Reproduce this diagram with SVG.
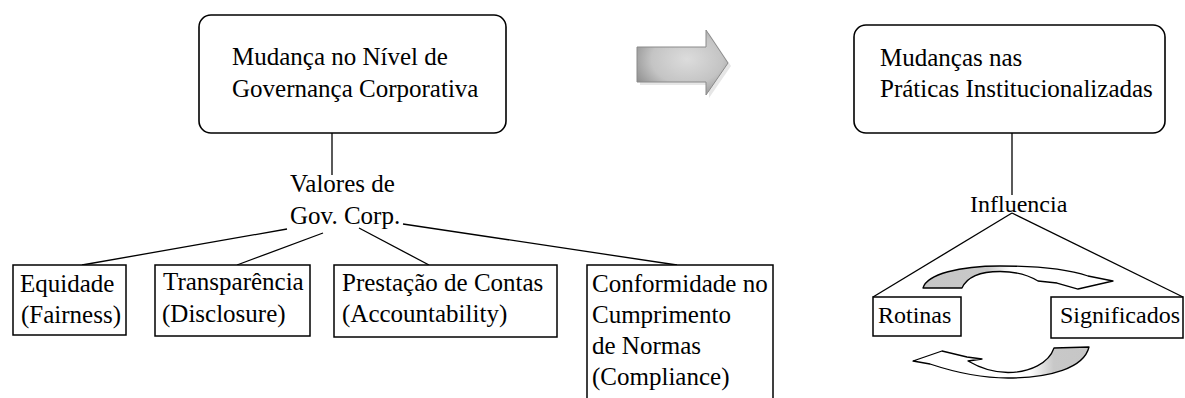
<svg xmlns="http://www.w3.org/2000/svg" width="1185" height="398" viewBox="0 0 1185 398">
  <style>
    .box{fill:#fff;stroke:#000;stroke-width:1.5}
    .rbox{fill:#fff;stroke:#000;stroke-width:1.6}
    .ln{stroke:#000;stroke-width:1.3;fill:none}
    .carr{stroke:#000;stroke-width:1.3;stroke-linejoin:round}
  </style>
  <defs>
    <radialGradient id="bigArr" cx="0.55" cy="0.45" r="0.65">
      <stop offset="0" stop-color="#dcdcdc"/>
      <stop offset="0.6" stop-color="#c4c4c4"/>
      <stop offset="1" stop-color="#8e8e8e"/>
    </radialGradient>
    <linearGradient id="gTop" gradientUnits="userSpaceOnUse" x1="923" y1="0" x2="1113" y2="0">
      <stop offset="0" stop-color="#c6c6c6"/>
      <stop offset="0.34" stop-color="#c8c8c8"/>
      <stop offset="0.46" stop-color="#ffffff"/>
      <stop offset="1" stop-color="#ffffff"/>
    </linearGradient>
    <linearGradient id="gBot" gradientUnits="userSpaceOnUse" x1="1089" y1="0" x2="913" y2="0">
      <stop offset="0" stop-color="#c6c6c6"/>
      <stop offset="0.2" stop-color="#c8c8c8"/>
      <stop offset="0.34" stop-color="#ffffff"/>
      <stop offset="1" stop-color="#ffffff"/>
    </linearGradient>
  </defs>

  <g id="connectors">
    <line class="ln" x1="332" y1="133" x2="332" y2="175"/>
    <line class="ln" x1="287" y1="229" x2="82" y2="265"/>
    <line class="ln" x1="323" y1="233" x2="237" y2="265"/>
    <line class="ln" x1="359" y1="228" x2="429" y2="265"/>
    <line class="ln" x1="403" y1="224" x2="677" y2="265"/>
    <line class="ln" x1="1012" y1="133" x2="1012" y2="195"/>
    <line class="ln" x1="1012" y1="213" x2="873" y2="297"/>
    <line class="ln" x1="1012" y1="213" x2="1183" y2="297"/>
  </g>

  <g id="big-arrow">
    <path d="M640,50 H709 V33 L731,66 L709,98 V85 H640 Z" fill="#d6d6d6" opacity="0.6"/>
    <path d="M637,47 H706 V30 L728,63 L706,95 V82 H637 Z" fill="url(#bigArr)" stroke="#8a8a8a" stroke-width="1"/>
  </g>

  <g id="cycle-arrows">
    <path class="carr" fill="url(#gTop)" d="M923,288 C927,274 960,266 1000,266 C1045,266 1073,271 1088,276 L1113,281 L1078,289 L1057,283 L1038,281 C1028,275 1015,271.5 1000,271.5 C980,271.5 967,277 962,288 Z"/>
    <path class="carr" fill="url(#gBot)" d="M1089,347 C1084,368 1050,378 1008,378 C975,378 948,370 930,364 L913,361 L942,351 L967,357 L982,359 L968,361 C980,368 995,372.5 1008,372.5 C1030,372.5 1049,363 1054,348 Z"/>
  </g>

  <g font-family="Liberation Serif" font-size="25" fill="#000">
    <g id="node-mudanca-governanca">
      <rect class="rbox" x="199" y="15" width="307" height="118" rx="12" ry="12"/>
      <text x="232" y="65">Mudança no Nível de</text>
      <text x="232" y="97">Governança Corporativa</text>
    </g>

    <g id="node-mudancas-praticas">
      <rect class="rbox" x="854" y="25" width="311" height="108" rx="12" ry="12"/>
      <text x="880" y="66">Mudanças nas</text>
      <text x="880" y="97">Práticas Institucionalizadas</text>
    </g>

    <g id="node-valores">
      <text x="290" y="192">Valores de</text>
      <text x="290" y="224">Gov. Corp.</text>
    </g>

    <g id="node-equidade">
      <rect class="box" x="13" y="265" width="113" height="70"/>
      <text x="20" y="292">Equidade</text>
      <text x="21" y="323">(Fairness)</text>
    </g>

    <g id="node-transparencia">
      <rect class="box" x="155" y="265" width="155" height="71"/>
      <text x="163" y="290">Transparência</text>
      <text x="162" y="322">(Disclosure)</text>
    </g>

    <g id="node-prestacao">
      <rect class="box" x="334" y="265" width="223" height="72"/>
      <text x="342" y="291">Prestação de Contas</text>
      <text x="342" y="322">(Accountability)</text>
    </g>

    <g id="node-conformidade">
      <rect class="box" x="587" y="265" width="186" height="140"/>
      <text x="592" y="292">Conformidade no</text>
      <text x="592" y="323">Cumprimento</text>
      <text x="592" y="354">de Normas</text>
      <text x="592" y="385">(Compliance)</text>
    </g>

    <g id="node-influencia">
      <text x="970" y="212" font-size="24">Influencia</text>
    </g>

    <g id="node-rotinas">
      <rect class="box" x="873" y="297" width="88" height="39"/>
      <text x="878" y="323" font-size="24">Rotinas</text>
    </g>

    <g id="node-significados">
      <rect class="box" x="1051" y="297" width="132" height="41"/>
      <text x="1060" y="323" font-size="24">Significados</text>
    </g>
  </g>
</svg>
